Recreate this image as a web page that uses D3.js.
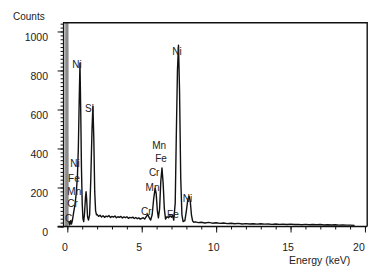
<!DOCTYPE html>
<html>
<head>
<meta charset="utf-8">
<script src="https://cdn.jsdelivr.net/npm/d3@7"></script>
<style>
  body { margin: 0; background: #fff; }
  text { font-family: "Liberation Sans", Arial, sans-serif; fill: #222; }
</style>
</head>
<body>
<div id="chart"></div>
<script>
// spectrum (energy in keV, counts)
var specEnergy = [0.10, 0.16, 0.22, 0.28, 0.34, 0.42, 0.52, 0.60, 0.68, 0.74, 0.80, 0.85, 0.90, 0.95, 1.00, 1.05, 1.10,
  1.15, 1.22, 1.26, 1.30, 1.36, 1.42, 1.50, 1.58, 1.66, 1.72, 1.78, 1.84, 1.90, 1.96,
  2.0, 2.1, 2.2, 2.3, 2.4, 2.5, 2.6, 2.7, 2.8, 2.9, 3.0, 3.1, 3.2, 3.3, 3.4, 3.5, 3.6, 3.7, 3.8, 3.9,
  4.0, 4.1, 4.2, 4.3, 4.4, 4.5, 4.6, 4.7, 4.8, 4.9,
  5.0, 5.1, 5.2, 5.3, 5.41, 5.5, 5.6, 5.7, 5.8, 5.9, 5.97, 6.05, 6.12, 6.2, 6.28, 6.36, 6.44, 6.52, 6.6,
  6.7, 6.8, 6.9, 7.0, 7.07, 7.15, 7.25, 7.32, 7.4, 7.47, 7.54, 7.62, 7.7, 7.78, 7.9, 8.0, 8.1, 8.18, 8.26, 8.34, 8.42, 8.5,
  8.6, 8.8, 9.0, 9.25, 9.5, 9.75, 10.0, 10.25, 10.5, 10.75, 11.0, 11.25, 11.5, 11.75, 12.0, 12.25, 12.5, 12.75,
  13.0, 13.25, 13.5, 13.75, 14.0, 14.25, 14.5, 14.75, 15.0, 15.25, 15.5, 15.75, 16.0, 16.25, 16.5, 16.75,
  17.0, 17.25, 17.5, 17.75, 18.0, 18.25, 18.5, 18.75, 19.0, 19.3];
var specCounts = [25, 8, 30, 12, 30, 70, 115, 170, 260, 400, 650, 838, 600, 300, 120, 40, 25,
  60, 150, 178, 140, 50, 33, 60, 250, 500, 618, 450, 180, 80, 60,
  62, 52, 58, 49, 55, 47, 53, 50, 56, 46, 52, 48, 54, 45, 50, 47, 52, 44, 49, 45,
  50, 42, 47, 44, 48, 41, 46, 40, 44, 38,
  42, 45, 38, 50, 62, 45, 33, 60, 140, 196, 170, 80, 44, 90, 230, 300, 220, 90, 38,
  50, 45, 55, 48, 58, 33, 120, 450, 800, 930, 700, 250, 60, 25, 30, 80, 140, 155, 130, 60, 28, 22,
  24, 20, 22, 18, 21, 17, 19, 16, 18, 15, 17, 14, 16, 13, 15, 13, 14, 12,
  14, 12, 13, 11, 13, 11, 12, 10, 12, 10, 11, 9, 11, 9, 10, 9,
  10, 8, 9, 8, 9, 7, 8, 7, 7, 6];

// zero energy strobe peak (grey band)
var zeroEnergy = [-0.15, -0.14, 0.08, 0.09];
var zeroCounts = [0, 1100, 1100, 0];

// element labels: text, energy (keV) of anchor, counts of baseline
var labelText   = ["Ni", "Fe", "Mn", "Cr", "C", "Ni", "Si", "Mn", "Fe", "Cr", "Mn", "Cr", "Fe", "Ni", "Ni"];
var labelEnergy = [0.20, 0.05, 0.00, 0.00, -0.15, 0.33, 1.19, 5.70, 5.90, 5.48, 5.26, 4.95, 6.70, 7.05, 7.75];
var labelCounts = [305, 228, 162, 100, 23, 815, 588, 398, 330, 258, 180, 60, 44, 879, 128];

var xTicks = [0, 5, 10, 15, 20];
var yTicks = [0, 200, 400, 600, 800, 1000];

var W = 383, H = 276;
var x = d3.scaleLinear().domain([-0.25, 20.15]).range([63.6, 367.2]);
var y = d3.scaleLinear().domain([0, 1045]).range([226.5, 22.7]);

var svg = d3.select("#chart").append("svg")
  .attr("width", W).attr("height", H);

svg.append("clipPath").attr("id", "plot")
  .append("rect")
  .attr("x", x(-0.25)).attr("y", y(1045))
  .attr("width", x(20.15) - x(-0.25)).attr("height", y(0) - y(1045));

var pts = specEnergy.map(function(e, i) { return [e, specCounts[i]]; });
var zpts = zeroEnergy.map(function(e, i) { return [e, zeroCounts[i]]; });

var line = d3.line().x(function(d) { return x(d[0]); }).y(function(d) { return y(d[1]); });
var area = d3.area().x(function(d) { return x(d[0]); }).y0(y(0)).y1(function(d) { return y(d[1]); });

var g = svg.append("g").attr("clip-path", "url(#plot)");
g.append("path").datum(zpts).attr("d", area).attr("fill", "#8a8a8a");
g.append("path").datum(pts).attr("d", line)
  .attr("fill", "none").attr("stroke", "#111").attr("stroke-width", 1.4)
  .attr("stroke-linejoin", "round");

// x axis
svg.append("g")
  .attr("transform", "translate(0," + y(0) + ")")
  .call(d3.axisBottom(x).tickValues(d3.range(0, 21, 1)).tickSize(3).tickFormat(""))
  .call(function(a) { a.select(".domain").remove(); a.selectAll("line").attr("stroke", "#111"); });
svg.append("g")
  .attr("transform", "translate(0," + y(0) + ")")
  .call(d3.axisBottom(x).tickValues(xTicks).tickSize(6).tickFormat(""))
  .call(function(a) { a.select(".domain").remove(); a.selectAll("line").attr("stroke", "#111"); });
svg.selectAll(".xlab").data(xTicks).enter().append("text")
  .attr("x", function(d) { return x(d) - (d == 20 ? 6 : 2.5); })
  .attr("y", 250.5)
  .attr("text-anchor", "middle")
  .attr("font-size", "10.5px")
  .text(function(d) { return d; });

// y axis
svg.append("g")
  .attr("transform", "translate(" + x(-0.25) + ",0)")
  .call(d3.axisLeft(y).tickValues(d3.range(0, 1041, 20)).tickSize(3).tickFormat(""))
  .call(function(a) { a.select(".domain").remove(); a.selectAll("line").attr("stroke", "#111"); });
svg.append("g")
  .attr("transform", "translate(" + x(-0.25) + ",0)")
  .call(d3.axisLeft(y).tickValues(yTicks).tickSize(6).tickFormat(""))
  .call(function(a) { a.select(".domain").remove(); a.selectAll("line").attr("stroke", "#111"); });
svg.selectAll(".ylab").data(yTicks).enter().append("text")
  .attr("x", 48)
  .attr("y", function(d) { return y(d) + 9.5; })
  .attr("text-anchor", "end")
  .attr("font-size", "10.5px")
  .text(function(d) { return d; });

// frame
svg.append("path")
  .attr("d", "M" + x(-0.25) + "," + y(0) + "V" + y(1045) + "H" + x(20.15) + "V" + y(0) + "M" + (x(-0.25) - 6) + "," + y(0) + "H" + x(20.15))
  .attr("fill", "none").attr("stroke", "#111").attr("stroke-width", 1.4);

// titles
svg.append("text").attr("x", 13).attr("y", 20).attr("font-size", "10px").text("Counts");
svg.append("text").attr("x", 289).attr("y", 264).attr("font-size", "10.5px").text("Energy (keV)");

// peak labels
svg.selectAll(".plab").data(labelText).enter().append("text")
  .attr("x", function(d, i) { return x(labelEnergy[i]); })
  .attr("y", function(d, i) { return y(labelCounts[i]); })
  .attr("font-size", "10px")
  .text(function(d) { return d; });
</script>
</body>
</html>
